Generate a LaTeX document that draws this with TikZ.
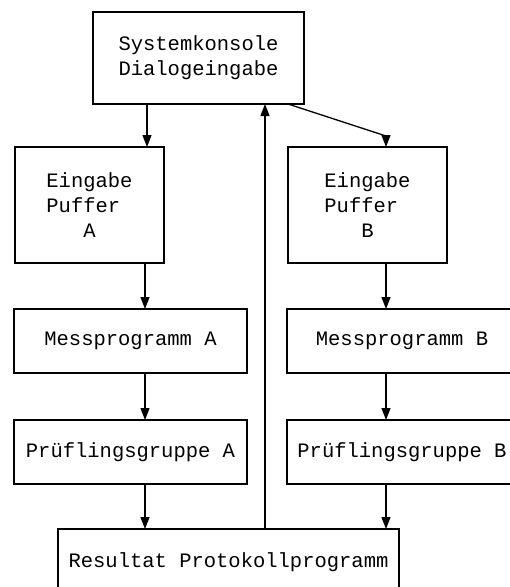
\documentclass[tikz,border=0pt]{standalone}
\usepackage{fontspec}
\usepackage{tikz}
\usetikzlibrary{positioning,arrows.meta}
\newfontfamily\monofont{Liberation Mono}
\tikzset{
	kasten/.style={draw,line width=2.4pt,inner sep=0pt,outer sep=0pt,align=left,
		font=\monofont\fontsize{20.5}{25}\selectfont},
	pfeil/.style={line width=1.3pt,-{Triangle[length=12pt,width=9pt]}}
}
\begin{document}
\begin{tikzpicture}[x=1pt,y=1pt]
			\useasboundingbox (0,0) rectangle (510,-587);
				%% Kaesten
				\node[kasten,minimum width=211pt,minimum height=92pt] (konsole) at (198.5,-58) {Systemkonsole\\Dialogeingabe};
				\node[kasten,minimum width=149pt,minimum height=116pt] (eingA) at (89.5,-205) {Eingabe\\Puffer\\\hphantom{EEE}A};
				\node[kasten,minimum width=159pt,minimum height=116pt,right =124pt of eingA] (eingB) {Eingabe\\Puffer\\\hphantom{EEE}B};
				\node[kasten,minimum width=233pt,minimum height=64pt,below right =46pt and -1pt of eingA.south west] (messA) {Messprogramm A};
				\node[kasten,minimum width=230pt,minimum height=64pt,right =40pt of messA] (messB) {Messprogramm B};
				\node[kasten,minimum width=233pt,minimum height=64pt,below =47pt of messA] (pruefA) {Prüflingsgruppe A};
				\node[kasten,minimum width=230pt,minimum height=64pt,right =40pt of pruefA] (pruefB) {Prüflingsgruppe B};
				\node[kasten,minimum width=341pt,minimum height=66pt,below right =45pt and 44pt of pruefA.south west] (result) {Resultat Protokollprogramm};
				% Spalten fuer die Pfeile
				\coordinate (colA) at (145,0);
				\coordinate (colB) at (386,0);
				\coordinate (colM) at (265,0);
				%% Pfeile
				\draw[pfeil] ([xshift=54pt]konsole.south west) -- ([xshift=54pt]konsole.south west |- eingA.north);
				\draw[pfeil] ([xshift=-16pt]konsole.south east) -- ([yshift=11pt]eingB.north -| colB) -- (eingB.north -| colB);
				\draw[pfeil] (eingA.south -| colA) -- (messA.north -| colA);
				\draw[pfeil] (messA.south -| colA) -- (pruefA.north -| colA);
				\draw[pfeil] (pruefA.south -| colA) -- (result.north -| colA);
				\draw[pfeil] (eingB.south -| colB) -- (messB.north -| colB);
				\draw[pfeil] (messB.south -| colB) -- (pruefB.north -| colB);
				\draw[pfeil] (pruefB.south -| colB) -- (result.north -| colB);
				% Rueckmeldung zur Konsole
				\draw[pfeil] (result.north -| colM) -- (konsole.south -| colM);
		\end{tikzpicture}
\end{document}
